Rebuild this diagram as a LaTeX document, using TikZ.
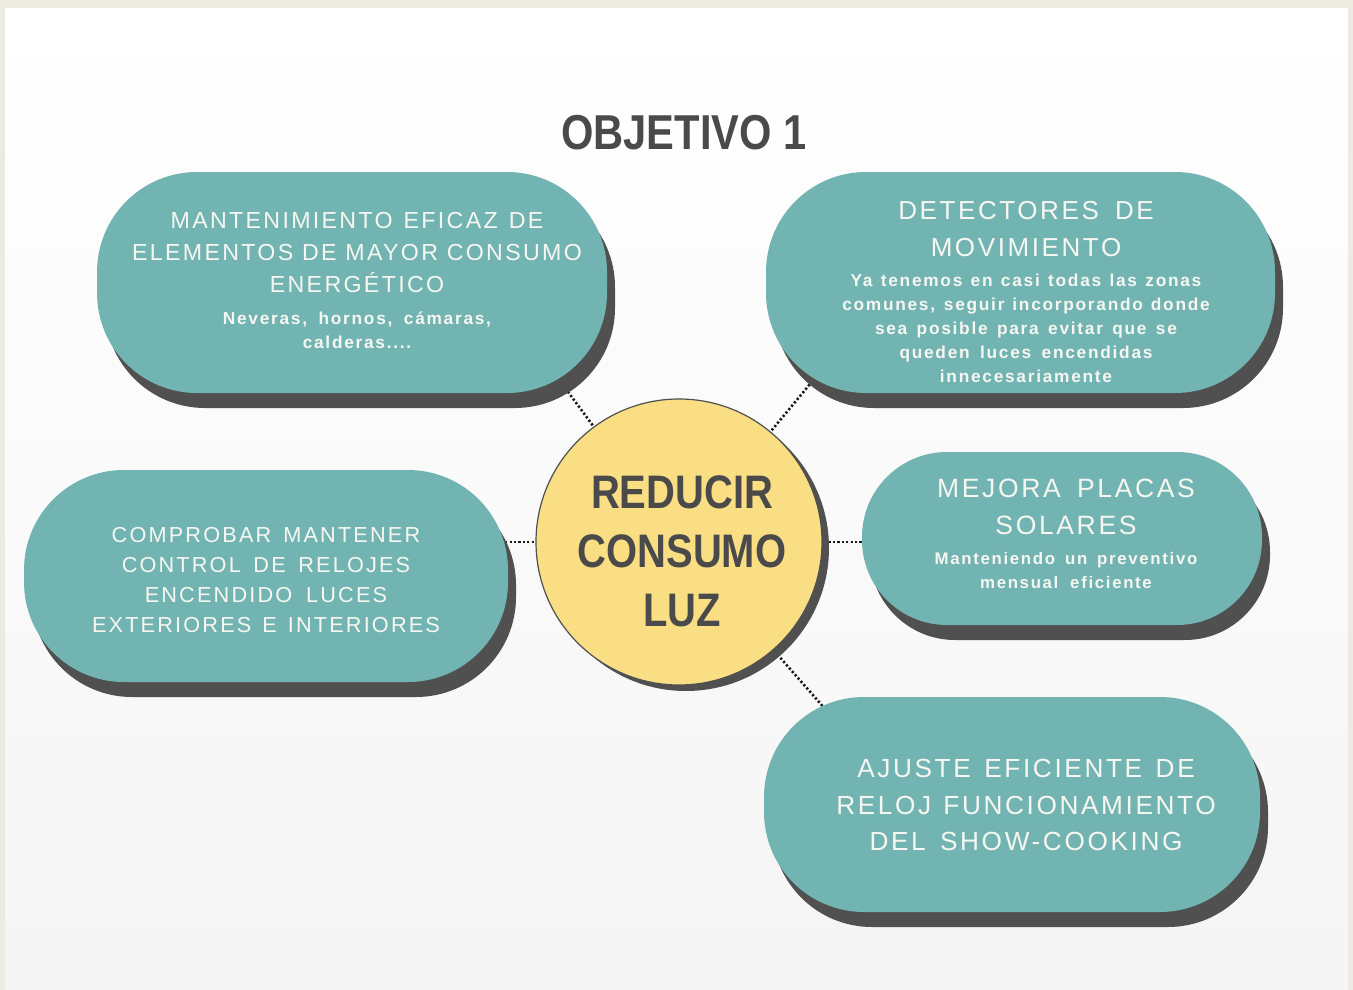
\documentclass[tikz,border=0pt]{standalone}
\usepackage{fontspec}
\setmainfont{Liberation Sans}
\newfontfamily\headfont[LetterSpace=10]{Liberation Sans}
\newfontfamily\titlefont[FakeStretch=0.85]{Liberation Sans}
\usetikzlibrary{shadows}
\definecolor{beige}{HTML}{EDEAE0}
\definecolor{teal1}{HTML}{72B4B2}
\definecolor{shad}{HTML}{505050}
\definecolor{yel}{HTML}{F9DE83}
\definecolor{ink}{HTML}{4A4A4A}
\definecolor{ptxt}{HTML}{F7F7F2}
\tikzset{
  pill/.style={rectangle, fill=teal1, draw=none, rounded corners=#1,
    drop shadow={shadow xshift=8pt, shadow yshift=-15pt, opacity=1, fill=shad}},
  pill/.default=100pt,
  ptext/.style={text=ptxt, text width=520pt, align=center, inner sep=0pt},
  conn/.style={draw=black!90, line width=2.6pt, dash pattern=on 2.2pt off 2.2pt},
  hub/.style={circle, fill=yel, draw=shad, line width=1.2pt, minimum size=286pt, inner sep=0pt,
    drop shadow={shadow xshift=7pt, shadow yshift=-6pt, opacity=1, fill=shad}},
}
\newcommand{\hd}[2]{\headfont\fontsize{#1}{#2}\selectfont\spaceskip=0.29em plus 0.05em\relax}
\newcommand{\bd}[2]{\headfont\bfseries\fontsize{#1}{#2}\selectfont\spaceskip=0.27em plus 0.05em\relax}
\begin{document}
\begin{tikzpicture}[x=1pt,y=-1pt]
\useasboundingbox (0,0) rectangle (1353,990);
\fill[beige] (0,0) rectangle (1353,990);
\shade[top color=white, bottom color=black!4] (5,9) rectangle (1348,990);

% connector end coordinates (inside the pills)
\coordinate (e1) at (557,377);
\coordinate (e2) at (825,366);
\coordinate (e3) at (500,542);
\coordinate (e4) at (872,542);
\coordinate (e5) at (833,718);
\coordinate (cc) at (679,542);

\draw[conn] (cc) -- (e1);
\draw[conn] (cc) -- (e2);
\draw[conn] (cc) -- (e3);
\draw[conn] (cc) -- (e4);
\draw[conn] (cc) -- (e5);

\node[font=\titlefont\bfseries\fontsize{49}{55}\selectfont, text=ink] (title) at (684,133) {OBJETIVO 1};

\node[pill, minimum width=510pt, minimum height=221pt] (p1) at (352,282.5) {};
\node[pill, minimum width=509pt, minimum height=221pt] (p2) at (1020.5,282.5) {};
\node[pill, minimum width=484pt, minimum height=212pt] (p3) at (266,576) {};
\node[pill=85pt, minimum width=400pt, minimum height=173pt] (p4) at (1062,538.5) {};
\node[pill, minimum width=496pt, minimum height=215pt] (p5) at (1012,804.5) {};

\node[hub] (c) at (cc) {};
\node[text=ink, align=center, font=\titlefont\bfseries\fontsize{47}{59}\selectfont] (ct) at (682,551) {REDUCIR\\CONSUMO\\LUZ};

\node[ptext] (t1) at (357,280) {%
{\hd{23.2}{32}MANTENIMIENTO EFICAZ DE\par ELEMENTOS DE MAYOR CONSUMO\par ENERGÉTICO\par}\vspace{8pt}%
{\bd{17.3}{24}Neveras, hornos, cámaras,\par calderas....\par}};

\node[ptext] (t2) at (1026,292) {%
{\hd{26}{37}DETECTORES DE\par MOVIMIENTO\par}\vspace{6pt}%
{\bd{17.3}{24}Ya tenemos en casi todas las zonas\par comunes, seguir incorporando donde\par sea posible para evitar que se\par queden luces encendidas\par innecesariamente\par}};

\node[ptext] (t3) at (266,580) {%
{\hd{21.7}{30}COMPROBAR MANTENER\par CONTROL DE RELOJES\par ENCENDIDO LUCES\par EXTERIORES E INTERIORES\par}};

\node[ptext] (t4) at (1066,534) {%
{\hd{26.5}{37}MEJORA PLACAS\par SOLARES\par}\vspace{6pt}%
{\bd{16.8}{24}Manteniendo un preventivo\par mensual eficiente\par}};

\node[ptext] (t5) at (1026,805) {%
{\hd{26.2}{36.5}AJUSTE EFICIENTE DE\par RELOJ FUNCIONAMIENTO\par DEL SHOW-COOKING\par}};
\end{tikzpicture}
\end{document}
